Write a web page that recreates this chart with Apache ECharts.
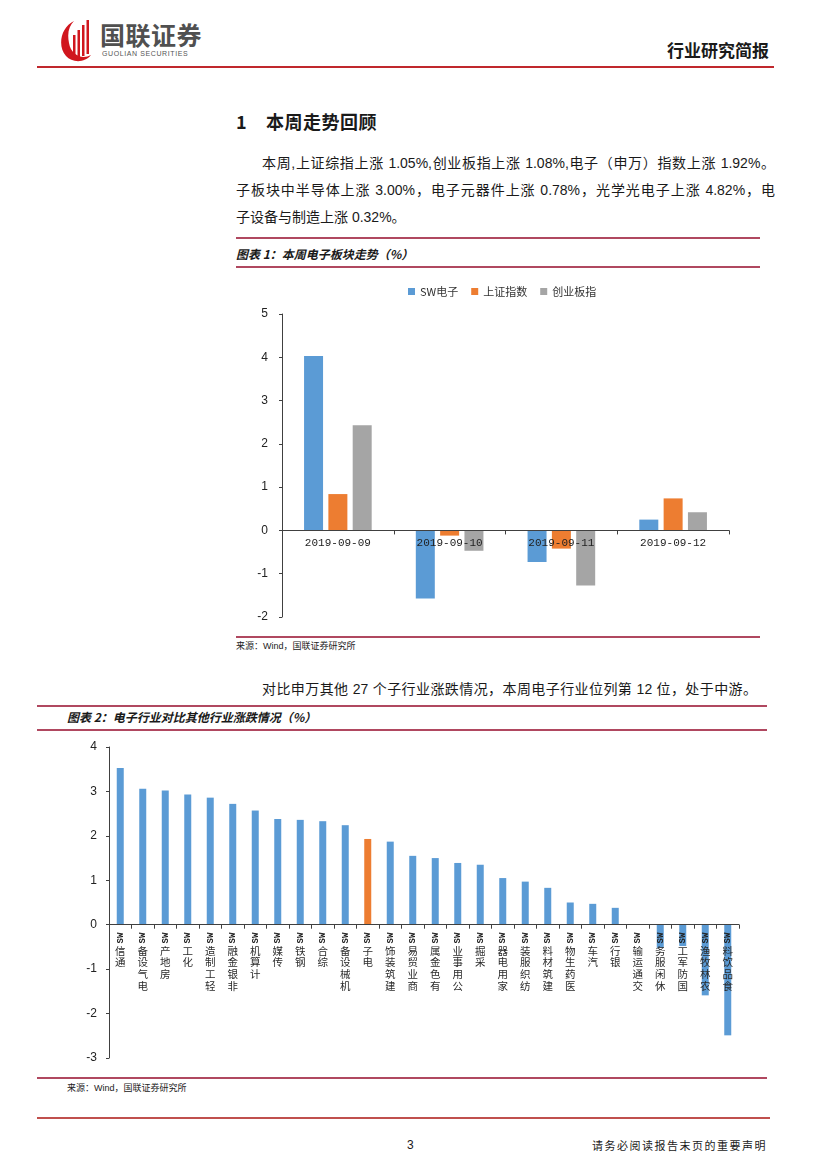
<!DOCTYPE html>
<html><head><meta charset="utf-8">
<script src="https://cdn.jsdelivr.net/npm/echarts@6/dist/echarts.min.js"></script>
<style>
body{margin:0;background:#fff;}
#page{position:relative;width:827px;height:1169px;overflow:hidden;font-family:"Liberation Sans","Noto Sans CJK SC",sans-serif;color:#1a1a1a;background:#fff;}
.abs{position:absolute;white-space:nowrap;}
.hl{position:absolute;height:1.5px;background:#b04860;}
.para{position:absolute;font-size:14px;line-height:27px;height:27px;text-align:justify;text-align-last:justify;overflow:hidden;}
.cap{position:absolute;font-size:12px;font-weight:bold;font-style:italic;line-height:16px;white-space:nowrap;font-family:"Noto Sans CJK SC",sans-serif;}
.src{position:absolute;font-size:9px;line-height:12px;white-space:nowrap;color:#222;}
</style></head>
<body>
<div id="page">
  <svg class="abs" style="left:58px;top:18px" width="160" height="46" viewBox="0 0 160 46">
    <path d="M16 3 C3 9 -1 28 8 38 C14 45 27 45 33 37 C24 42 13 37 11 25 C9 15 11 8 16 3Z" fill="#d0161e"/>
    <rect x="15" y="17" width="2.5" height="22" fill="#d0161e"/>
    <rect x="19.5" y="12" width="2.5" height="27" fill="#d0161e"/>
    <rect x="24" y="7" width="2.5" height="31" fill="#d0161e"/>
    <rect x="28.5" y="2" width="2.5" height="34" fill="#d0161e"/>
    <text x="42" y="27" font-family="Noto Sans CJK SC" font-weight="bold" font-size="25" fill="#505050" letter-spacing="0.5">国联证券</text>
    <text x="44" y="38" font-family="Liberation Sans" font-size="7" fill="#555" letter-spacing="0.6">GUOLIAN SECURITIES</text>
  </svg>
  <div class="abs" style="left:667px;top:40px;font-size:17px;font-weight:bold;font-family:'Noto Sans CJK SC';line-height:20px;">行业研究简报</div>
  <div class="abs" style="left:37px;top:66px;width:737px;height:2px;background:#c0282d;"></div>

  <div class="abs" style="left:236px;top:109px;font-size:18px;font-weight:bold;line-height:24px;font-family:'Noto Sans CJK SC';">1</div>
  <div class="abs" style="left:266px;top:109px;font-size:18px;font-weight:bold;line-height:24px;font-family:'Noto Sans CJK SC';letter-spacing:0.5px;">本周走势回顾</div>

  <div class="para" style="left:262px;top:150px;width:513px;">本周,上证综指上涨 1.05%,创业板指上涨 1.08%,电子（申万）指数上涨 1.92%。</div>
  <div class="para" style="left:236px;top:177px;width:539px;">子板块中半导体上涨 3.00%，电子元器件上涨 0.78%，光学光电子上涨 4.82%，电</div>
  <div class="para" style="left:236px;top:204px;width:300px;text-align:left;text-align-last:left;">子设备与制造上涨 0.32%。</div>

  <div class="hl" style="left:236px;top:237px;width:524px;"></div>
  <div class="cap" style="left:236px;top:246px;">图表 1：本周电子板块走势（%）</div>
  <div class="hl" style="left:236px;top:266px;width:524px;"></div>

  <div id="c1" style="position:absolute;left:230px;top:270px;width:540px;height:365px;"></div>

  <div class="hl" style="left:236px;top:636px;width:524px;"></div>
  <div class="src" style="left:236px;top:640px;">来源：Wind，国联证券研究所</div>

  <div class="para" style="left:262px;top:676px;width:495px;">对比申万其他 27 个子行业涨跌情况，本周电子行业位列第 12 位，处于中游。</div>

  <div class="hl" style="left:37px;top:705px;width:730px;"></div>
  <div class="cap" style="left:67px;top:709px;">图表 2：电子行业对比其他行业涨跌情况（%）</div>
  <div class="hl" style="left:37px;top:729px;width:730px;"></div>

  <div id="c2" style="position:absolute;left:40px;top:735px;width:720px;height:341px;"></div>

  <div class="hl" style="left:37px;top:1077px;width:730px;"></div>
  <div class="src" style="left:67px;top:1082px;">来源：Wind，国联证券研究所</div>

  <div class="abs" style="left:37px;top:1117px;width:733px;height:2px;background:#c0504d;"></div>
  <div class="abs" style="left:407px;top:1137px;font-size:12px;line-height:16px;">3</div>
  <div class="abs" style="left:592px;top:1137px;font-size:11px;line-height:16px;letter-spacing:1.5px;font-family:'Noto Sans CJK SC';">请务必阅读报告末页的重要声明</div>
</div>

<script>
// ---- Chart 1 data ----
const dates = ['2019-09-09', '2019-09-10', '2019-09-11', '2019-09-12'];
const seriesNames = ['SW电子', '上证指数', '创业板指'];
const swElectronics = [4.03, -1.57, -0.73, 0.25];
const shanghaiIndex = [0.84, -0.12, -0.42, 0.74];
const chinextIndex = [2.43, -0.47, -1.27, 0.42];
const yTicks1 = { min: -2, max: 5, interval: 1 };

// ---- Chart 2 data ----
const industries = ['通信SW', '电气设备SW', '房地产SW', '化工SW', '轻工制造SW', '非银金融SW', '计算机SW',
  '传媒SW', '钢铁SW', '综合SW', '机械设备SW', '电子SW', '建筑装饰SW', '商业贸易SW', '有色金属SW',
  '公用事业SW', '采掘SW', '家用电器SW', '纺织服装SW', '建筑材料SW', '医药生物SW', '汽车SW', '银行SW',
  '交通运输SW', '休闲服务SW', '国防军工SW', '农林牧渔SW', '食品饮料SW'];
const industryChange = [3.53, 3.06, 3.02, 2.93, 2.86, 2.72, 2.57, 2.38, 2.36, 2.33, 2.24, 1.93, 1.87, 1.55, 1.50,
  1.39, 1.35, 1.05, 0.97, 0.83, 0.50, 0.47, 0.38, 0.00, -0.52, -0.48, -1.59, -2.49];
const highlightIndustry = '电子SW';
const yTicks2 = { min: -3, max: 4, interval: 1 };

const BLUE = '#5B9BD5', ORANGE = '#ED7D31', GRAY = '#A5A5A5', AXIS = '#404040';

// the category axis sits on the value 0 line: shift it up from the grid bottom by the scale's zero position
function zeroOffset(gridH, t) { return -((0 - t.min) / (t.max - t.min)) * gridH; }

const g1 = { left: 52, right: 41, top: 44, bottom: 18 };
const h1 = 365 - g1.top - g1.bottom;
const c1 = echarts.init(document.getElementById('c1'));
c1.setOption({
  animation: false,
  color: [BLUE, ORANGE, GRAY],
  legend: {
    top: 11, left: 173, itemWidth: 7, itemHeight: 7, itemGap: 13, icon: 'rect',
    data: seriesNames,
    textStyle: { fontSize: 11, color: '#333', fontFamily: 'Noto Sans CJK SC' }
  },
  grid: Object.assign({ outerBoundsMode: 'none', containLabel: false }, g1),
  xAxis: {
    type: 'category', data: dates, z: 10, offset: zeroOffset(h1, yTicks1),
    axisLine: { onZero: false, lineStyle: { color: AXIS, width: 1 } },
    axisTick: { show: true, length: 4, lineStyle: { color: AXIS } },
    axisLabel: { margin: 7, fontSize: 11, color: '#222', fontFamily: 'Liberation Mono' }
  },
  yAxis: {
    type: 'value', min: yTicks1.min, max: yTicks1.max, interval: yTicks1.interval,
    axisLine: { show: true, lineStyle: { color: AXIS } },
    axisTick: { show: true, length: 3, lineStyle: { color: AXIS } },
    splitLine: { show: false },
    axisLabel: { margin: 14, fontSize: 12, color: '#222', fontFamily: 'Liberation Sans' }
  },
  series: [
    { name: seriesNames[0], type: 'bar', data: swElectronics, barWidth: 19, barGap: '28%' },
    { name: seriesNames[1], type: 'bar', data: shanghaiIndex, barWidth: 19, barGap: '28%' },
    { name: seriesNames[2], type: 'bar', data: chinextIndex, barWidth: 19, barGap: '28%' }
  ]
});

const g2 = { left: 69, right: 21, top: 12, bottom: 18 };
const h2 = 341 - g2.top - g2.bottom;
const off2 = zeroOffset(h2, yTicks2);
const c2 = echarts.init(document.getElementById('c2'));
c2.setOption({
  animation: false,
  grid: Object.assign({ outerBoundsMode: 'none', containLabel: false }, g2),
  xAxis: [
    {
      type: 'category', data: industries, z: 10, offset: off2,
      axisLine: { onZero: false, lineStyle: { color: AXIS, width: 1 } },
      axisTick: { show: true, length: 4, lineStyle: { color: AXIS } },
      axisLabel: {
        interval: 0, margin: 20, fontSize: 10.5, lineHeight: 11.75, color: '#2a2a2a',
        fontFamily: 'Noto Sans CJK SC',
        formatter: v => v.replace('SW', '').split('').reverse().join('\n')
      }
    },
    {
      type: 'category', data: industries, position: 'bottom', z: 10, offset: off2,
      axisLine: { show: false, onZero: false },
      axisTick: { show: false },
      axisLabel: {
        interval: 0, rotate: 90, margin: 8, fontSize: 9, fontWeight: 'bold', color: '#222',
        fontFamily: 'Liberation Mono',
        formatter: v => v.slice(-2)
      }
    }
  ],
  yAxis: {
    type: 'value', min: yTicks2.min, max: yTicks2.max, interval: yTicks2.interval,
    axisLine: { show: true, lineStyle: { color: AXIS } },
    axisTick: { show: true, length: 3, lineStyle: { color: AXIS } },
    splitLine: { show: false },
    axisLabel: { margin: 12, fontSize: 12, color: '#222', fontFamily: 'Liberation Sans' }
  },
  series: [{
    type: 'bar', data: industryChange, xAxisIndex: 0, barWidth: 7,
    itemStyle: { color: p => industries[p.dataIndex] === highlightIndustry ? ORANGE : BLUE }
  }]
});
</script>
</body></html>
